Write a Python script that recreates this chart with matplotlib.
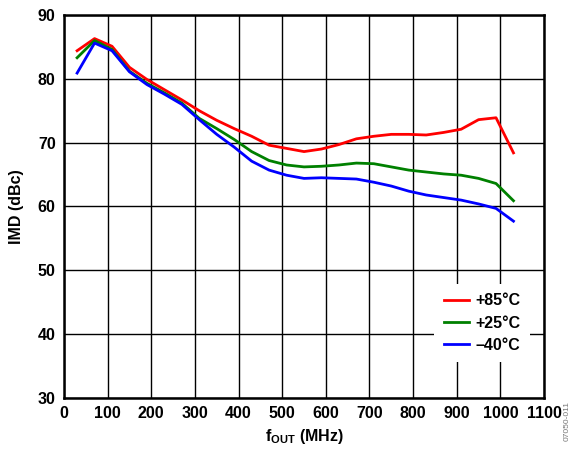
import numpy as np
import matplotlib.pyplot as plt

plt.rcParams['font.family'] = ['Liberation Sans', 'DejaVu Sans']
plt.rcParams['font.weight'] = 'bold'
plt.rcParams['mathtext.fontset'] = 'custom'
plt.rcParams['mathtext.bf'] = 'Liberation Sans:bold'
plt.rcParams['mathtext.rm'] = 'Liberation Sans:bold'

# output frequency (MHz)
f_out = np.array([30, 70, 110, 150, 190, 230, 270, 310, 350, 390, 430, 470, 510,
                  550, 590, 630, 670, 710, 750, 790, 830, 870, 910, 950, 990, 1030])

# IMD (dBc) per temperature
imd_85 = np.array([84.4, 86.3, 85.1, 81.8, 79.9, 78.3, 76.7, 75.0, 73.5, 72.2, 71.0, 69.6, 69.1,
                   68.6, 69.0, 69.7, 70.6, 71.0, 71.3, 71.3, 71.2, 71.6, 72.1, 73.6, 73.9, 68.4])
imd_25 = np.array([83.3, 86.0, 84.6, 81.2, 79.3, 77.8, 76.2, 73.8, 72.2, 70.5, 68.6, 67.2, 66.5,
                   66.2, 66.3, 66.5, 66.8, 66.7, 66.2, 65.7, 65.4, 65.1, 64.9, 64.4, 63.6, 60.9])
imd_m40 = np.array([80.9, 85.6, 84.4, 81.1, 79.1, 77.6, 76.0, 73.6, 71.3, 69.3, 67.1, 65.7, 64.9,
                    64.4, 64.5, 64.4, 64.3, 63.8, 63.2, 62.4, 61.8, 61.4, 61.0, 60.4, 59.7, 57.7])

labels = ['+85°C', '+25°C', '\u201340°C']
colors = ['#ff0000', '#008000', '#0000ff']

fig = plt.figure(figsize=(5.72, 4.5), dpi=100)
ax = fig.add_axes([0.1119, 0.1156, 0.8392, 0.8511])

for y, lab, c in zip([imd_85, imd_25, imd_m40], labels, colors):
    ax.plot(f_out, y, color=c, lw=2, label=lab, zorder=3)

ax.set_xlim(0, 1100)
ax.set_ylim(30, 90)
ax.set_xticks(np.arange(0, 1101, 100))
ax.set_yticks(np.arange(30, 91, 10))
ax.grid(True, color='black', lw=1.0)
ax.tick_params(length=0, labelsize=11.5, pad=6)
for s in ax.spines.values():
    s.set_linewidth(1.8)

ax.set_xlabel(r'$\mathbf{f_{OUT}}$ (MHz)', fontsize=11.5, fontweight='bold', labelpad=4)
ax.set_ylabel('IMD (dBc)', fontsize=11.5, fontweight='bold', labelpad=10)

leg = ax.legend(loc='lower right', bbox_to_anchor=(0.988, 0.072), frameon=True,
                fancybox=False, edgecolor='none', framealpha=1, fontsize=11.5,
                handlelength=1.6, handletextpad=0.4, borderpad=0.6, labelspacing=0.45)
leg.set_zorder(5)

fig.text(0.992, 0.02, '07050-011', rotation=90, fontsize=6, color='#777777',
         fontweight='normal', ha='center', va='bottom')

fig.savefig('out.png', dpi=100)
